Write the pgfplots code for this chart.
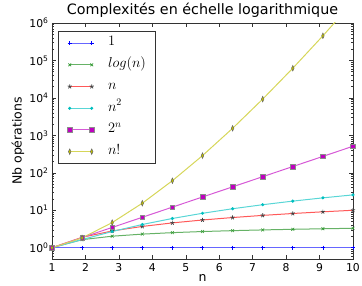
\documentclass[border=0pt]{standalone}
\usepackage{fontspec}
\setmainfont{DejaVu Sans}
\usepackage{pgfplots}
\pgfplotsset{compat=1.18}
\definecolor{mb}{rgb}{0,0,1}
\definecolor{mg}{rgb}{0,0.5,0}
\definecolor{mr}{rgb}{1,0,0}
\definecolor{mc}{rgb}{0,0.75,0.75}
\definecolor{mm}{rgb}{0.75,0,0.75}
\definecolor{my}{rgb}{0.75,0.75,0}
\begin{document}
\begin{tikzpicture}[x=1pt,y=1pt]
\useasboundingbox (0,0) rectangle (362,286);
\begin{axis}[
  at={(52pt,27pt)}, anchor=south west,
  scale only axis, width=301pt, height=236pt,
  ymode=log, log basis y=10,
  xmin=1, xmax=10, ymin=0.5, ymax=1e6,
  xtick={1,2,3,4,5,6,7,8,9,10},
  ytick={1,10,100,1000,10000,100000,1000000},
  yticklabels={10\textsuperscript{0},10\textsuperscript{1},10\textsuperscript{2},10\textsuperscript{3},10\textsuperscript{4},10\textsuperscript{5},10\textsuperscript{6}},
  minor ytick={0.5,0.6,0.7,0.8,0.9,2,3,4,5,6,7,8,9,20,30,40,50,60,70,80,90,200,300,400,500,600,700,800,900,2000,3000,4000,5000,6000,7000,8000,9000,20000,30000,40000,50000,60000,70000,80000,90000,200000,300000,400000,500000,600000,700000,800000,900000},
  /pgf/number format/assume math mode=true,
  tick label style={font=\fontsize{10.8}{12}\selectfont},
  xticklabel style={yshift=-1pt},
  major tick length=4pt, minor tick length=2pt,
  tick style={black!80, line width=0.5pt},
  axis line style={black!80, line width=0.8pt},
  title={Complexités en échelle logarithmique},
  title style={at={(axis description cs:0.5,1)}, anchor=base, yshift=2.8pt, font=\fontsize{14.3}{16}\selectfont},
  xlabel={n},
  ylabel={Nb opérations},
  xlabel style={at={(axis description cs:0.5,-0.08)}, anchor=center, font=\fontsize{12.5}{14}\selectfont},
  ylabel style={at={(axis description cs:-0.113,0.5)}, anchor=center, rotate=0, font=\fontsize{12.5}{14}\selectfont},
  legend cell align=left,
  legend image code/.code={\draw[#1] plot coordinates {(0pt,0pt) (22pt,0pt)};},
  legend style={at={(axis description cs:0.02,0.966)}, anchor=north west,
    draw=black!80, line width=0.8pt, inner xsep=9pt, inner ysep=5pt,
    row sep=8.2pt, column sep=14pt,
    font=\fontsize{14}{16}\selectfont,
    nodes={inner sep=0pt, text height=9.5pt, text depth=4pt}},
]
\addplot[color=mb!60!white, line width=1pt, mark=+, mark size=2pt, mark options={draw=mb, line width=0.6pt}]
coordinates {(1,1) (1.9,1) (2.8,1) (3.7,1) (4.6,1) (5.5,1) (6.4,1) (7.3,1) (8.2,1) (9.1,1) (10,1)};
\addlegendentry{$1$}
\addplot[color=mg!60!white, line width=1pt, mark=x, mark size=2pt, mark options={draw=mg!80!white, line width=0.6pt}]
coordinates {(1,1) (1.9,1.642) (2.8,2.030) (3.7,2.308) (4.6,2.526) (5.5,2.705) (6.4,2.856) (7.3,2.988) (8.2,3.104) (9.1,3.208) (10,3.303)};
\addlegendentry{$log(n)$}
\addplot[color=mr!65!white, line width=1pt, mark=star, mark size=2.2pt, mark options={draw=black!75, line width=0.7pt}]
coordinates {(1,1) (1.9,1.9) (2.8,2.8) (3.7,3.7) (4.6,4.6) (5.5,5.5) (6.4,6.4) (7.3,7.3) (8.2,8.2) (9.1,9.1) (10,10)};
\addlegendentry{$n$}
\addplot[color=mc!65!white, line width=1pt, mark=*, mark size=1pt, mark options={fill=mc, draw=mc}]
coordinates {(1,1) (1.9,1.65) (2.8,2.71) (3.7,4.17) (4.6,6.04) (5.5,8.31) (6.4,10.99) (7.3,14.07) (8.2,17.56) (9.1,21.45) (10,25.75)};
\addlegendentry{$n^2$}
\addplot[color=mm!65!white, line width=1pt, mark=square*, mark size=2.3pt, mark options={fill=mm, draw=black!45, line width=0.5pt}]
coordinates {(1,1) (1.9,1.866) (2.8,3.482) (3.7,6.498) (4.6,12.13) (5.5,22.63) (6.4,42.22) (7.3,78.79) (8.2,147.0) (9.1,274.4) (10,512)};
\addlegendentry{$2^n$}
\addplot[color=my!65!white, line width=1pt, mark=diamond*, mark size=2.8pt, mark options={fill=my, draw=black!60, line width=0.5pt, xscale=0.6}]
coordinates {(1,1) (1.9,1.827) (2.8,4.694) (3.7,15.43) (4.6,61.55) (5.5,287.9) (6.4,1541) (7.3,9282) (8.2,62012) (9.1,454756) (10,3628800)};
\addlegendentry{$n!$}
\end{axis}
\end{tikzpicture}
\end{document}
